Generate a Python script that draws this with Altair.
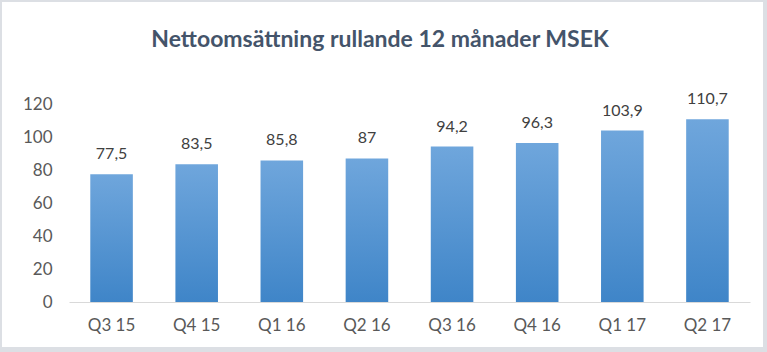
import altair as alt
import pandas as pd

title_text = ["Nettoomsättning rullande 12 månader MSEK"]
quarters = ["Q3 15", "Q4 15", "Q1 16", "Q2 16", "Q3 16", "Q4 16", "Q1 17", "Q2 17"]
values = [77.5, 83.5, 85.8, 87, 94.2, 96.3, 103.9, 110.7]
labels = [f"{v:g}".replace(".", ",") for v in values]
y_ticks = [0, 20, 40, 60, 80, 100, 120]

df = pd.DataFrame({"q": quarters, "v": values, "lab": labels})

FONT = "Lato"

frame = alt.Chart(pd.DataFrame({"a": [0]})).mark_rect(color="white").encode(
    x=alt.value(-67), x2=alt.value(694), y=alt.value(-102), y2=alt.value(243)
)

title = alt.Chart(pd.DataFrame({"t": title_text})).mark_text(
    font=FONT, fontSize=23, fontWeight="bold", color="#44546a",
    align="center", baseline="alphabetic"
).encode(x=alt.value(311), y=alt.value(-57), text="t:N")

grad = alt.LinearGradient(
    gradient="linear",
    stops=[alt.GradientStop(color="#6fa6dc", offset=0),
           alt.GradientStop(color="#3f85c8", offset=1)],
    x1=0, x2=0, y1=0, y2=1,
)

xenc = alt.X("q:N", sort=quarters, title=None,
             scale=alt.Scale(paddingInner=0.5, paddingOuter=0.25),
             axis=alt.Axis(labelAngle=0, labelFont=FONT, labelFontSize=17,
                           labelColor="#595959", domainColor="#d9d9d9",
                           ticks=False, tickSize=0, labelPadding=15, zindex=1))
yenc = alt.Y("v:Q", title=None,
             scale=alt.Scale(domain=[0, 120], nice=False),
             axis=alt.Axis(values=y_ticks, labelFont=FONT, labelFontSize=17,
                           labelColor="#595959", domain=False, ticks=False,
                           tickSize=0, grid=False, labelPadding=17, zindex=1,
                           labelOverlap=False))

bars = alt.Chart(df).mark_bar(color=grad).encode(x=xenc, y=yenc)

text = alt.Chart(df).mark_text(
    baseline="bottom", dy=-12, font=FONT, fontSize=16, color="#404040"
).encode(x=xenc, y=yenc, text="lab:N")

chart = alt.layer(frame, title, bars, text).properties(
    width=681, height=198,
    padding={"left": 69, "top": 104, "right": 17, "bottom": 50},
    autosize=alt.AutoSizeParams(type="none"),
    background="#dcdfe4",
).configure_view(stroke=None)

chart.save("out.html", embed_options={"renderer": "svg", "actions": False})
